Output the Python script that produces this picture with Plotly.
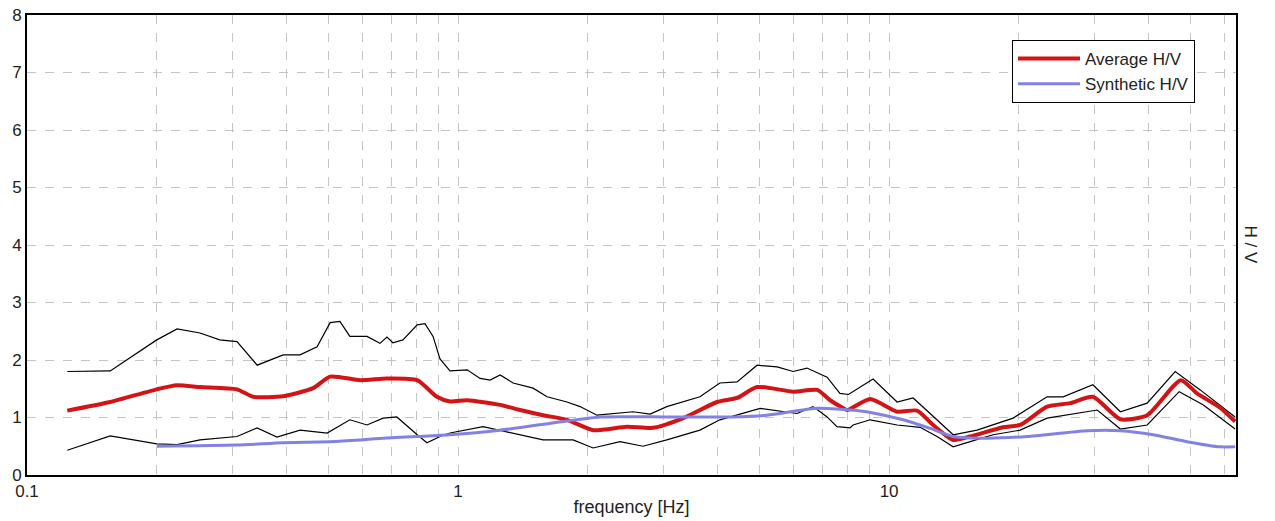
import plotly.graph_objects as go
import math

# ---- data ----
avg_f = [0.124, 0.156, 0.200, 0.223, 0.252, 0.307, 0.335, 0.393, 0.461, 0.505, 0.593, 0.684, 0.804, 0.893,
         0.958, 1.05, 1.252, 1.393, 1.575, 1.79, 2.057, 2.466, 2.833, 3.33, 3.99, 4.44, 4.94, 5.99, 6.81,
         7.30, 7.8, 8.0, 9.04, 10.44, 11.61, 12.65, 14.08, 15.42, 18.39, 20.14, 23.26, 26.3, 29.7, 34.4,
         39.7, 47.5, 51.8, 58.6, 63.5]
avg_v = [1.12, 1.27, 1.49, 1.56, 1.53, 1.49, 1.36, 1.37, 1.51, 1.71, 1.65, 1.68, 1.65, 1.36,
         1.28, 1.30, 1.22, 1.13, 1.04, 0.96, 0.78, 0.84, 0.82, 0.99, 1.27, 1.34, 1.53, 1.45, 1.48,
         1.30, 1.17, 1.13, 1.32, 1.10, 1.12, 0.87, 0.61, 0.67, 0.83, 0.87, 1.19, 1.25, 1.36, 0.97,
         1.04, 1.65, 1.42, 1.17, 0.93]

up_f = [0.124, 0.156, 0.200, 0.223, 0.252, 0.280, 0.307, 0.342, 0.393, 0.430, 0.471, 0.505, 0.532, 0.561,
        0.615, 0.659, 0.684, 0.706, 0.745, 0.804, 0.838, 0.875, 0.908, 0.958, 1.05, 1.125, 1.187, 1.252,
        1.342, 1.493, 1.609, 1.79, 1.919, 2.10, 2.547, 2.79, 3.05, 3.64, 4.05, 4.44, 4.94, 5.50, 5.99,
        6.45, 7.18, 7.69, 8.05, 9.18, 10.44, 11.37, 12.45, 14.08, 16.0, 19.40, 23.26, 25.34, 29.7, 34.4,
        39.7, 46.1, 52.7, 63.5]
up_v = [1.80, 1.81, 2.35, 2.54, 2.47, 2.35, 2.32, 1.91, 2.09, 2.09, 2.23, 2.65, 2.67, 2.41,
        2.41, 2.29, 2.40, 2.30, 2.35, 2.61, 2.63, 2.41, 2.02, 1.81, 1.83, 1.68, 1.65, 1.74,
        1.60, 1.51, 1.36, 1.27, 1.19, 1.04, 1.10, 1.06, 1.19, 1.36, 1.60, 1.62, 1.91, 1.88, 1.80,
        1.86, 1.70, 1.42, 1.40, 1.67, 1.27, 1.34, 1.07, 0.70, 0.78, 0.99, 1.36, 1.36, 1.57, 1.10,
        1.25, 1.80, 1.48, 1.01]

lo_f = [0.124, 0.156, 0.200, 0.223, 0.252, 0.307, 0.342, 0.380, 0.430, 0.497, 0.561, 0.615, 0.670, 0.721,
        0.804, 0.847, 0.908, 0.958, 1.143, 1.342, 1.446, 1.575, 1.849, 2.057, 2.376, 2.687, 3.05, 3.64,
        4.05, 5.02, 6.12, 6.66, 6.92, 7.18, 7.57, 8.12, 8.25, 9.04, 10.44, 11.8, 12.92, 14.08, 15.42,
        17.43, 20.14, 23.26, 30.4, 34.4, 39.7, 47.1, 53.5, 63.5]
lo_v = [0.43, 0.68, 0.54, 0.53, 0.61, 0.67, 0.82, 0.66, 0.78, 0.73, 0.96, 0.87, 0.99, 1.01,
        0.70, 0.56, 0.67, 0.73, 0.84, 0.73, 0.67, 0.61, 0.61, 0.47, 0.58, 0.50, 0.61, 0.78,
        0.96, 1.16, 1.07, 1.19, 1.10, 1.01, 0.84, 0.82, 0.87, 0.96, 0.87, 0.83, 0.67, 0.49, 0.58,
        0.70, 0.78, 0.99, 1.13, 0.80, 0.87, 1.45, 1.22, 0.80]

syn_f = [0.200, 0.307, 0.393, 0.505, 0.593, 0.670, 0.804, 0.958, 1.252, 1.79, 2.136, 3.05, 4.35, 5.21,
         6.81, 8.12, 9.18, 10.78, 12.45, 14.08, 16.87, 20.9, 28.8, 34.4, 41.0, 49.1, 58.6, 63.5]
syn_v = [0.50, 0.52, 0.56, 0.58, 0.61, 0.64, 0.67, 0.70, 0.78, 0.94, 1.01, 1.01, 1.01, 1.04,
         1.16, 1.13, 1.08, 0.96, 0.81, 0.67, 0.64, 0.67, 0.77, 0.77, 0.70, 0.58, 0.49, 0.49]

grid_freqs = [0.1, 0.2, 0.3, 0.4, 0.5, 0.6, 0.7, 0.8, 0.9,
              1, 2, 3, 4, 5, 6, 7, 8, 9,
              10, 20, 30, 40, 50, 60]
tick_labels = {0.1: "0.1", 1: "1", 10: "10"}
y_ticks = [0, 1, 2, 3, 4, 5, 6, 7, 8]

FONT = "Arial, Liberation Sans, sans-serif"

fig = go.Figure()
fig.add_trace(go.Scatter(x=up_f, y=up_v, mode="lines", line=dict(color="black", width=1.2),
                         showlegend=False, hoverinfo="skip"))
fig.add_trace(go.Scatter(x=lo_f, y=lo_v, mode="lines", line=dict(color="black", width=1.2),
                         showlegend=False, hoverinfo="skip"))
fig.add_trace(go.Scatter(x=avg_f, y=avg_v, mode="lines", name="Average H/V",
                         line=dict(color="#d41414", width=4, shape="spline", smoothing=0.6)))
fig.add_trace(go.Scatter(x=syn_f, y=syn_v, mode="lines", name="Synthetic H/V",
                         line=dict(color="#8282e6", width=3, shape="spline", smoothing=0.6)))

fig.update_layout(
    width=1275, height=521,
    margin=dict(l=27, r=39, t=15, b=46, autoexpand=False),
    paper_bgcolor="white", plot_bgcolor="white",
    font=dict(family=FONT, size=17, color="#222"),
    legend=dict(x=0.8147, y=0.9457, xanchor="left", yanchor="top",
                bgcolor="white", bordercolor="black", borderwidth=1,
                font=dict(family=FONT, size=17, color="#222"), tracegroupgap=0,
                itemwidth=62),
    xaxis=dict(type="log", range=[-1, math.log10(63.8)], automargin=False,
               tickmode="array", tickvals=grid_freqs,
               ticktext=[tick_labels.get(v, "") for v in grid_freqs],
               tickfont=dict(family=FONT, size=17, color="#222"),
               ticklabeloverflow="allow",
               showgrid=True, gridcolor="#c4c4c4", griddash="dash", gridwidth=1,
               showline=True, linecolor="black", linewidth=2, mirror=True,
               ticks="", zeroline=False,
               title=dict(text="frequency [Hz]", font=dict(family=FONT, size=18, color="#222"), standoff=0)),
    yaxis=dict(range=[0, 8], tickmode="array", tickvals=y_ticks, automargin=False,
               tickfont=dict(family=FONT, size=17, color="#222"),
               ticklabeloverflow="allow",
               showgrid=True, gridcolor="#c4c4c4", griddash="dash", gridwidth=1,
               showline=True, linecolor="black", linewidth=2, mirror=True,
               ticks="", zeroline=False),
    annotations=[dict(text="H / V", xref="paper", yref="paper", x=1.0128, y=0.5,
                      xanchor="center", yanchor="middle", textangle=90, showarrow=False,
                      font=dict(family=FONT, size=17, color="#222"))],
)

fig.write_html("out.html", config={"displayModeBar": False},
               post_script="document.body.style.margin='0px';document.body.style.overflow='hidden';")
